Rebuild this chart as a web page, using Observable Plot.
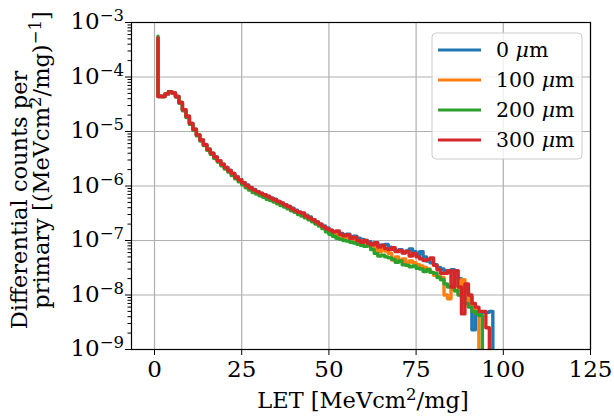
<!DOCTYPE html>
<html><head><meta charset="utf-8">
<script src="https://cdn.jsdelivr.net/npm/d3@7"></script>
<script src="https://cdn.jsdelivr.net/npm/@observablehq/plot@0.6"></script>
<style>body{margin:0;background:#fff}</style>
</head><body><div id="chart"></div><script>
// LET bin positions [MeV cm2/mg]
const LET = [1,2,3,4,5,6,7,8,9,10,11,12,13,14,15,16,17,18,19,20,21,22,23,24,25,26,27,28,29,30,
 31,32,33,34,35,36,37,38,39,40,41,42,43,44,45,46,47,48,49,50,51,52,53,54,55,56,57,58,59,60,
 61,62,63,64,65,66,67,68,69,70,71,72,73,74,75,76,77,78,79,80,81,82,83,84,85,86,87,88,89,90,
 91,92,93,94,95,96,97,98];

// Differential counts per primary, one array per thickness
const counts0um = [5.0e-4,4.5e-5,4.4e-5,4.9e-5,5.4e-5,5.1e-5,4.4e-5,3.4e-5,2.5e-5,1.9e-5,
 1.4e-5,1.1e-5,8.7e-6,7.0e-6,5.8e-6,4.8e-6,4.0e-6,3.4e-6,2.9e-6,2.5e-6,
 2.2e-6,1.95e-6,1.7e-6,1.5e-6,1.3e-6,1.15e-6,1.05e-6,9.4e-7,8.6e-7,7.9e-7,
 7.3e-7,6.9e-7,6.4e-7,6.0e-7,5.7e-7,5.2e-7,4.8e-7,4.5e-7,4.2e-7,3.9e-7,
 3.6e-7,3.3e-7,3.1e-7,2.9e-7,2.7e-7,2.4e-7,2.2e-7,2.0e-7,1.85e-7,1.7e-7,
 1.55e-7,1.45e-7,1.4e-7,1.35e-7,1.28e-7,1.3e-7,1.15e-7,1.2e-7,1.1e-7,1.05e-7,
 1.0e-7,9.5e-8,8.8e-8,9.0e-8,8.0e-8,8.3e-8,8.5e-8,7.5e-8,7.0e-8,6.5e-8,
 6.8e-8,6.0e-8,6.4e-8,7.0e-8,6.2e-8,5.5e-8,6.2e-8,5.0e-8,4.2e-8,3.9e-8,
 3.6e-8,3.2e-8,3.0e-8,2.8e-8,2.6e-8,2.9e-8,2.8e-8,2.0e-8,1.2e-8,1.3e-8,
 9.0e-9,2.3e-9,4.8e-9,4.8e-9,4.8e-9,4.8e-9,5.0e-9,0];

const counts100um = [5.3e-4,4.4e-5,4.4e-5,4.9e-5,5.4e-5,5.1e-5,4.4e-5,3.4e-5,2.5e-5,1.9e-5,
 1.4e-5,1.1e-5,8.6e-6,7.0e-6,5.7e-6,4.7e-6,4.0e-6,3.3e-6,2.9e-6,2.5e-6,
 2.15e-6,1.9e-6,1.65e-6,1.45e-6,1.28e-6,1.12e-6,1.0e-6,9.1e-7,8.3e-7,7.6e-7,
 7.1e-7,6.6e-7,6.2e-7,5.8e-7,5.4e-7,5.0e-7,4.6e-7,4.3e-7,4.0e-7,3.7e-7,
 3.4e-7,3.2e-7,3.0e-7,2.8e-7,2.5e-7,2.4e-7,2.1e-7,1.9e-7,1.75e-7,1.55e-7,
 1.4e-7,1.3e-7,1.25e-7,1.2e-7,1.15e-7,1.15e-7,1.1e-7,1.05e-7,9.5e-8,9.8e-8,
 9.0e-8,8.5e-8,8.0e-8,7.3e-8,6.2e-8,7.0e-8,6.4e-8,5.8e-8,4.4e-8,5.0e-8,
 4.2e-8,4.6e-8,3.8e-8,4.2e-8,3.9e-8,3.6e-8,3.4e-8,3.2e-8,3.0e-8,2.6e-8,
 2.3e-8,2.2e-8,2.1e-8,1.0e-8,8.5e-9,1.3e-8,1.2e-8,1.25e-8,1.9e-8,9.0e-9,
 7.5e-9,6.5e-9,5.0e-9,0];

const counts200um = [5.6e-4,4.4e-5,4.4e-5,4.9e-5,5.4e-5,5.1e-5,4.3e-5,3.3e-5,2.4e-5,1.8e-5,
 1.35e-5,1.05e-5,8.3e-6,6.7e-6,5.5e-6,4.5e-6,3.8e-6,3.2e-6,2.75e-6,2.35e-6,
 2.05e-6,1.8e-6,1.55e-6,1.35e-6,1.2e-6,1.05e-6,9.3e-7,8.4e-7,7.6e-7,7.1e-7,
 6.6e-7,6.2e-7,5.7e-7,5.4e-7,5.1e-7,4.7e-7,4.4e-7,4.1e-7,3.8e-7,3.5e-7,
 3.3e-7,3.0e-7,2.8e-7,2.6e-7,2.4e-7,2.2e-7,2.0e-7,1.85e-7,1.65e-7,1.45e-7,
 1.3e-7,1.2e-7,1.1e-7,1.05e-7,1.0e-7,9.8e-8,9.3e-8,9.0e-8,8.5e-8,8.2e-8,
 7.8e-8,8.0e-8,6.8e-8,5.8e-8,5.2e-8,5.4e-8,5.0e-8,4.8e-8,4.5e-8,4.0e-8,
 4.2e-8,3.6e-8,3.5e-8,3.3e-8,3.4e-8,3.1e-8,3.0e-8,2.7e-8,2.9e-8,2.6e-8,
 2.5e-8,2.1e-8,1.9e-8,1.6e-8,1.4e-8,1.4e-8,1.2e-8,1.0e-8,9.0e-9,7.0e-9,
 6.0e-9,5.0e-9,4.5e-9,4.2e-9,0];

const counts300um = [5.2e-4,4.4e-5,4.4e-5,4.9e-5,5.4e-5,5.1e-5,4.4e-5,3.4e-5,2.5e-5,1.9e-5,
 1.4e-5,1.1e-5,8.6e-6,7.0e-6,5.7e-6,4.7e-6,4.0e-6,3.4e-6,2.9e-6,2.5e-6,
 2.2e-6,1.9e-6,1.7e-6,1.45e-6,1.3e-6,1.15e-6,1.02e-6,9.3e-7,8.5e-7,7.9e-7,
 7.4e-7,6.9e-7,6.5e-7,6.0e-7,5.6e-7,5.2e-7,4.9e-7,4.5e-7,4.2e-7,3.8e-7,
 3.5e-7,3.3e-7,3.2e-7,2.8e-7,2.6e-7,2.4e-7,2.2e-7,2.0e-7,1.8e-7,1.65e-7,
 1.55e-7,1.45e-7,1.5e-7,1.3e-7,1.22e-7,1.28e-7,1.1e-7,1.15e-7,1.0e-7,9.3e-8,
 1.0e-7,8.9e-8,8.3e-8,9.1e-8,7.6e-8,8.1e-8,7.1e-8,6.8e-8,7.4e-8,6.3e-8,
 6.6e-8,5.9e-8,6.3e-8,5.2e-8,5.8e-8,5.0e-8,4.6e-8,4.3e-8,4.5e-8,4.8e-8,
 3.5e-8,2.9e-8,2.5e-8,2.5e-8,2.8e-8,1.4e-8,2.8e-8,1.4e-8,4.5e-9,1.6e-8,
 1.0e-8,7.0e-9,6.0e-9,5.0e-9,5.0e-9,2.5e-9,0];

const thicknessUm = [0, 100, 200, 300];
const seriesNames = thicknessUm.map(t => `${t} μm`);
const seriesValues = [counts0um, counts100um, counts200um, counts300um];
const seriesColors = ["#1f77b4", "#ff7f0e", "#2ca02c", "#d62728"];
const xTicks = [0, 25, 50, 75, 100, 125];
const yTicks = [1e-9, 1e-8, 1e-7, 1e-6, 1e-5, 1e-4, 1e-3];
const minorTicks = [];
for (let e = -9; e < -3; e++) for (let m = 2; m <= 9; m++) minorTicks.push(m * Math.pow(10, e));

const rows = [];
seriesValues.forEach((vals, k) => vals.forEach((v, i) => rows.push({LET: LET[i], counts: v, series: seriesNames[k]})));

const FS = 23, SUP = 16.5, LFS = 22.5;
const plot = Plot.plot({
  width: 614, height: 416,
  marginLeft: 131, marginRight: 24, marginTop: 22, marginBottom: 67,
  style: {fontFamily: "'DejaVu Serif', serif", fontSize: FS + "px", background: "white", color: "black", overflow: "visible"},
  x: {domain: [-6.6, 125]},
  y: {type: "log", domain: [1e-9, 1e-3]},
  color: {domain: seriesNames, range: seriesColors},
  marks: [
    Plot.gridX(xTicks, {stroke: "#b0b0b0", strokeOpacity: 1, strokeWidth: 1.2}),
    Plot.gridY(yTicks, {stroke: "#b0b0b0", strokeOpacity: 1, strokeWidth: 1.2}),
    Plot.line(rows, {x: "LET", y: d => Math.max(d.counts, 1e-12), z: "series", stroke: "series",
      curve: "step-before", strokeWidth: 3.4, strokeLinejoin: "round", clip: true}),
    Plot.frame({stroke: "black", strokeWidth: 1.2}),
    Plot.axisX(xTicks, {tickSize: 6, tickPadding: 5, label: null, tickFormat: d => String(d)}),
    Plot.axisY(minorTicks, {tickSize: 3.5, tickFormat: () => "", label: null}),
    Plot.axisY(yTicks, {tickSize: 6, label: null, tickFormat: () => ""})
  ]
});
document.getElementById("chart").appendChild(plot);

const svg = d3.select(plot);
const ys = plot.scale("y");
const xs = plot.scale("x");
const frameLeft = xs.apply(xs.domain[0]);

// y tick labels: "10" with superscript exponent, right-aligned by measurement
yTicks.forEach(v => {
  const exp = Math.round(Math.log10(v));
  const t = svg.append("text").attr("y", ys.apply(v) + 7.4)
    .attr("text-anchor", "start").attr("font-size", FS).attr("fill", "black");
  const a = t.append("tspan").text("10");
  const b = t.append("tspan").attr("dy", -8).attr("font-size", SUP).text(String(exp).replace("-", "\u2212"));
  const w = a.node().getComputedTextLength() + b.node().getComputedTextLength();
  t.attr("x", frameLeft - 7 - w);
});

// x label
const xl = svg.append("text").attr("x", 363).attr("y", 408).attr("text-anchor", "middle")
  .attr("font-size", LFS).attr("fill", "black");
xl.append("tspan").text("LET [MeVcm");
xl.append("tspan").attr("dy", -8).attr("font-size", SUP).text("2");
xl.append("tspan").attr("dy", 8).text("/mg]");

// y label (two lines)
svg.append("text").attr("transform", "translate(27,200) rotate(-90)").attr("text-anchor", "middle")
  .attr("font-size", LFS).attr("fill", "black").text("Differential counts per");
const yl2 = svg.append("text").attr("transform", "translate(49,160) rotate(-90)").attr("text-anchor", "middle")
  .attr("font-size", LFS).attr("fill", "black");
yl2.append("tspan").text("primary [(MeVcm");
yl2.append("tspan").attr("dy", -8).attr("font-size", SUP).text("2");
yl2.append("tspan").attr("dy", 8).text("/mg)");
yl2.append("tspan").attr("dy", -8).attr("font-size", SUP).text("\u22121");
yl2.append("tspan").attr("dy", 8).text("]");

// legend
const lg = svg.append("g");
lg.append("rect").attr("x", 432).attr("y", 33).attr("width", 150).attr("height", 126).attr("rx", 4)
  .attr("fill", "white").attr("fill-opacity", 0.8).attr("stroke", "#cccccc").attr("stroke-width", 1);
seriesNames.forEach((n, k) => {
  const cy = 50 + 30 * k;
  lg.append("line").attr("x1", 438).attr("x2", 481).attr("y1", cy).attr("y2", cy)
    .attr("stroke", seriesColors[k]).attr("stroke-width", 3);
  const t = lg.append("text").attr("x", 496).attr("y", cy + 7).attr("text-anchor", "start")
    .attr("font-size", 20.5).attr("fill", "black");
  t.append("tspan").text(thicknessUm[k] + " ");
  t.append("tspan").attr("font-style", "italic").text("μ");
  t.append("tspan").text("m");
});
</script></body></html>
